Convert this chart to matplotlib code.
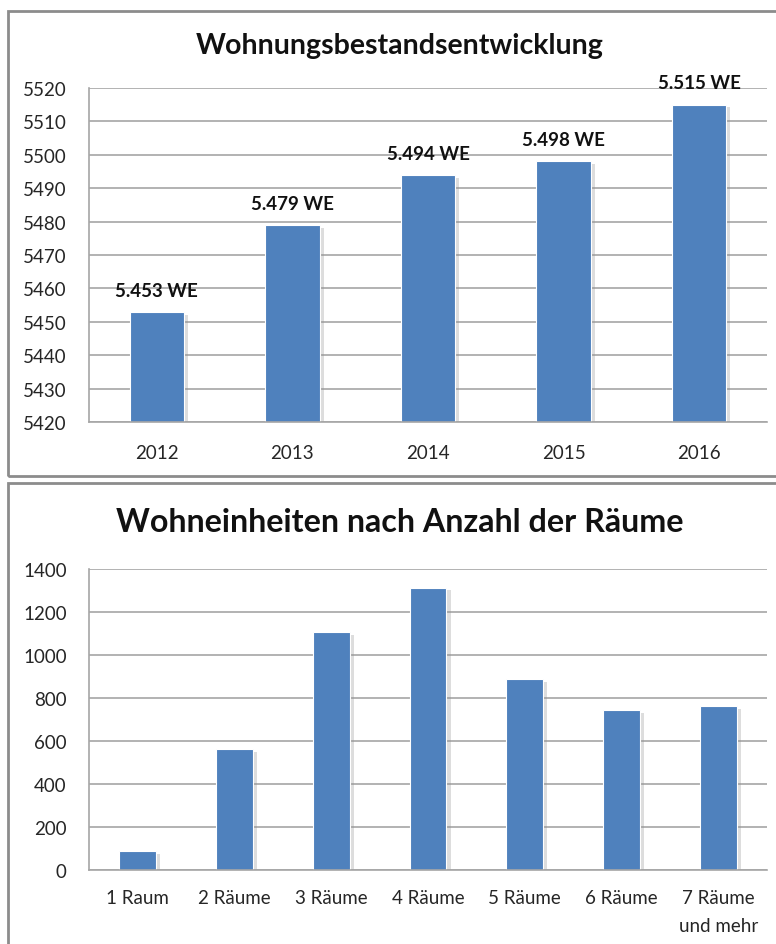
import matplotlib
matplotlib.use("Agg")
import matplotlib.pyplot as plt
import matplotlib.patheffects as pe
from matplotlib.patches import Rectangle

plt.rcParams['font.family'] = ['Lato', 'DejaVu Sans']

jahre = ['2012', '2013', '2014', '2015', '2016']
bestand = [5453, 5479, 5494, 5498, 5515]
bestand_labels = ['5.453 WE', '5.479 WE', '5.494 WE', '5.498 WE', '5.515 WE']

raeume = ['1 Raum', '2 Räume', '3 Räume', '4 Räume', '5 Räume', '6 Räume', '7 Räume\nund mehr']
einheiten = [88, 563, 1105, 1313, 888, 744, 762]

BLAU = '#4F81BD'
GRID = '#A6A6A6'
W, H = 776, 945

fig = plt.figure(figsize=(W / 100, H / 100), dpi=100)


def px_axes(left, top, right, bottom):
    return fig.add_axes([left / W, 1 - bottom / H, (right - left) / W, (bottom - top) / H])


def style(ax):
    ax.set_axisbelow(True)
    ax.grid(axis='y', color=GRID, linewidth=1.2)
    for s in ['top', 'right']:
        ax.spines[s].set_visible(False)
    for s in ['left', 'bottom']:
        ax.spines[s].set_color(GRID)
        ax.spines[s].set_linewidth(1.2)
    ax.tick_params(length=0, labelsize=13.5, colors='#262626')


schatten = [pe.SimplePatchShadow(offset=(3, -2), shadow_rgbFace='#909090', alpha=0.3), pe.Normal()]

# Rahmen
fig.patches.append(Rectangle((8 / W, 1 - 477 / H), 1.0, (477 - 12) / H, transform=fig.transFigure,
                             fill=False, edgecolor='#8C8C8C', linewidth=2))
fig.patches.append(Rectangle((8 / W, -0.1), 1.0, 0.1 + (945 - 484) / H, transform=fig.transFigure,
                             fill=False, edgecolor='#8C8C8C', linewidth=2))

# oben
ax1 = px_axes(89, 89, 767, 423)
bars = ax1.bar(range(len(jahre)), [b - 5420 for b in bestand], bottom=5420, width=0.4,
               color=BLAU, edgecolor='white', linewidth=0.8)
for b in bars:
    b.set_path_effects(schatten)
ax1.set_xlim(-0.5, len(jahre) - 0.5)
ax1.set_ylim(5420, 5520)
ax1.set_yticks(range(5420, 5521, 10))
ax1.set_xticks(range(len(jahre)))
ax1.set_xticklabels(jahre)
style(ax1)
ax1.tick_params(axis='x', pad=16)
ax1.tick_params(axis='y', pad=16)
for i, (v, t) in enumerate(zip(bestand, bestand_labels)):
    ax1.text(i, v + 6.5, t, ha='center', va='center', fontsize=13.5, fontweight='bold',
             color='#111111', clip_on=False)
fig.text(400 / W, 1 - 46 / H, 'Wohnungsbestandsentwicklung', ha='center', va='center',
         fontsize=20.5, fontweight='bold', color='#111111')

# unten
ax2 = px_axes(89, 570, 767, 871)
bars2 = ax2.bar(range(len(raeume)), einheiten, width=0.38, color=BLAU,
                edgecolor='white', linewidth=0.8)
for b in bars2:
    b.set_path_effects(schatten)
ax2.set_xlim(-0.5, len(raeume) - 0.5)
ax2.set_ylim(0, 1400)
ax2.set_yticks(range(0, 1401, 200))
ax2.set_xticks(range(len(raeume)))
ax2.set_xticklabels(raeume, va='top', linespacing=1.75)
style(ax2)
ax2.tick_params(axis='x', pad=14)
ax2.tick_params(axis='y', pad=16)
fig.text(400 / W, 1 - 523 / H, 'Wohneinheiten nach Anzahl der Räume', ha='center', va='center',
         fontsize=23.2, fontweight='bold', color='#111111')

fig.savefig('out.png', dpi=100, facecolor='white')
